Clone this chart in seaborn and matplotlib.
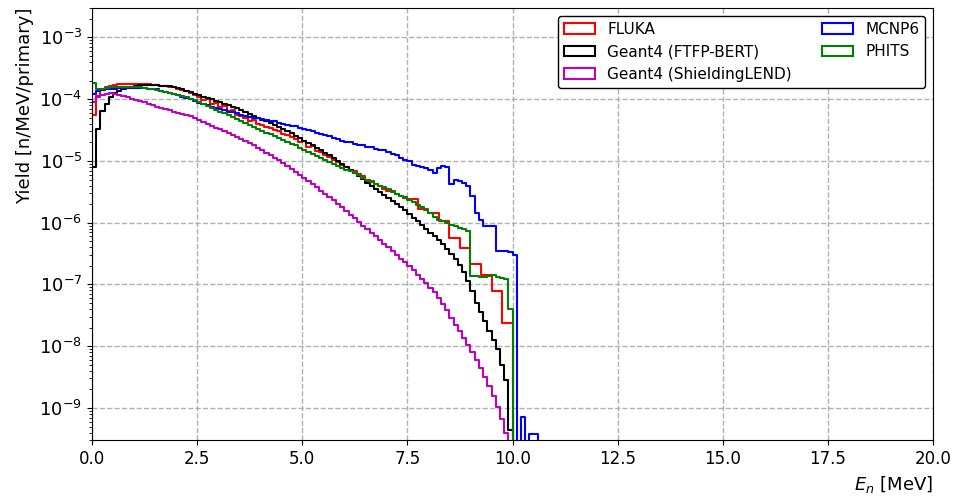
import numpy as np
import matplotlib
matplotlib.use("Agg")
import matplotlib.pyplot as plt
import seaborn as sns
from matplotlib.patches import Patch

# log10 of yield [n/MeV/primary] per bin; -12 marks an empty bin (below the axis)
fluka_log10 = [-4.25, -3.95, -3.85, -3.80, -3.78, -3.77, -3.76, -3.76, -3.76, -3.76,
               -3.76, -3.76, -3.76, -3.76, -3.77, -3.77, -3.78, -3.79, -3.80, -3.81,
               -3.83, -3.85, -3.87, -3.90, -3.93, -3.97, -4.02, -4.00, -4.08, -4.06,
               -4.13, -4.11, -4.19, -4.17, -4.25, -4.27, -4.30, -4.35, -4.34, -4.40,
               -4.42, -4.45, -4.47, -4.50, -4.52, -4.56, -4.58, -4.62, -4.64, -4.70,
               -4.68, -4.78, -4.76, -4.84, -4.86, -4.90, -4.94, -4.99, -5.02, -5.06,
               -5.10, -5.14, -5.17, -5.21, -5.25, -5.32, -5.33, -5.37, -5.40, -5.45,
               -5.48, -5.48, -5.54, -5.56, -5.60,
               -5.62, -5.78, -5.85, -5.97, -6.25, -6.41, -6.67, -6.84, -7.10, -7.62, -12]

ftfp_log10 = [-5.10, -4.48, -4.19, -4.08, -3.97, -3.90, -3.86, -3.83, -3.81, -3.80,
              -3.78, -3.77, -3.77, -3.77, -3.77, -3.77, -3.78, -3.78, -3.79, -3.80,
              -3.82, -3.84, -3.86, -3.88, -3.91, -3.94, -3.96, -3.98, -4.00, -4.03,
              -4.05, -4.08, -4.10, -4.13, -4.15, -4.18, -4.21, -4.24, -4.27, -4.30,
              -4.33, -4.36, -4.39, -4.42, -4.45, -4.48, -4.51, -4.55, -4.59, -4.63,
              -4.67, -4.71, -4.75, -4.79, -4.83, -4.87, -4.91, -4.95, -5.00, -5.05,
              -5.10, -5.15, -5.20, -5.25, -5.30, -5.35, -5.40, -5.45, -5.50, -5.55,
              -5.60, -5.65, -5.70, -5.75, -5.80, -5.86, -5.92, -5.98, -6.04, -6.10,
              -6.16, -6.22, -6.28, -6.35, -6.42, -6.50, -6.58, -6.68, -6.80, -6.95,
              -7.10, -7.30, -7.45, -7.60, -7.75, -7.90, -8.05, -8.30, -8.55, -9.35,
              -12]

shielding_log10 = [-4.05, -3.97, -3.93, -3.91, -3.90, -3.91, -3.93, -3.95, -3.97, -3.99,
                   -4.01, -4.03, -4.05, -4.08, -4.10, -4.12, -4.14, -4.16, -4.18, -4.20,
                   -4.22, -4.24, -4.26, -4.28, -4.30, -4.34, -4.37, -4.40, -4.43, -4.46,
                   -4.49, -4.52, -4.55, -4.58, -4.61, -4.64, -4.67, -4.71, -4.75, -4.79,
                   -4.83, -4.87, -4.91, -4.95, -4.99, -5.03, -5.08, -5.13, -5.18, -5.23,
                   -5.28, -5.33, -5.38, -5.43, -5.48, -5.53, -5.58, -5.63, -5.69, -5.75,
                   -5.81, -5.87, -5.93, -5.99, -6.05, -6.10, -6.16, -6.22, -6.28, -6.34,
                   -6.40, -6.46, -6.52, -6.58, -6.64, -6.70, -6.77, -6.84, -6.91, -6.98,
                   -7.05, -7.13, -7.22, -7.32, -7.42, -7.55, -7.65, -7.75, -7.87, -7.98,
                   -8.10, -8.22, -8.35, -8.50, -8.65, -8.80, -8.98, -9.18, -9.40, -12]

mcnp_log10 = [-3.92, -3.87, -3.85, -3.84, -3.83, -3.83, -3.82, -3.82, -3.82, -3.82,
              -3.82, -3.82, -3.82, -3.83, -3.83, -3.84, -3.86, -3.88, -3.90, -3.92,
              -3.94, -3.96, -3.98, -4.00, -4.03, -4.06, -4.08, -4.10, -4.12, -4.14,
              -4.16, -4.18, -4.20, -4.21, -4.23, -4.25, -4.27, -4.29, -4.30, -4.31,
              -4.32, -4.33, -4.35, -4.36, -4.38, -4.40, -4.41, -4.43, -4.44, -4.46,
              -4.48, -4.50, -4.52, -4.54, -4.56, -4.58, -4.60, -4.63, -4.65, -4.67,
              -4.69, -4.70, -4.72, -4.74, -4.75, -4.77, -4.78, -4.80, -4.82, -4.83,
              -4.85, -4.88, -4.91, -4.95, -4.99, -5.00, -5.06, -5.08, -5.10, -5.12,
              -5.15, -5.19, -5.12, -5.09, -5.10, -5.37, -5.31, -5.33, -5.35, -5.40,
              -5.56, -5.84, -5.95, -6.06, -6.06, -6.06, -6.46, -6.46, -6.46, -6.47,
              -6.52, -12, -9.15, -12, -9.43, -9.43, -12]

phits_log10 = [-3.73, -3.84, -3.83, -3.82, -3.81, -3.80, -3.80, -3.80, -3.80, -3.80,
               -3.81, -3.81, -3.82, -3.83, -3.84, -3.85, -3.86, -3.88, -3.90, -3.91,
               -3.93, -3.95, -3.97, -3.99, -4.02, -4.05, -4.08, -4.11, -4.14, -4.17,
               -4.20, -4.23, -4.26, -4.29, -4.32, -4.35, -4.38, -4.42, -4.45, -4.48,
               -4.51, -4.54, -4.57, -4.60, -4.63, -4.66, -4.69, -4.72, -4.75, -4.79,
               -4.83, -4.86, -4.89, -4.92, -4.95, -4.98, -5.01, -5.05, -5.08, -5.11,
               -5.14, -5.17, -5.20, -5.23, -5.27, -5.31, -5.34, -5.37, -5.40, -5.43,
               -5.46, -5.50, -5.53, -5.56, -5.59, -5.63, -5.67, -5.71, -5.75, -5.80,
               -5.85, -5.90, -5.95, -5.98, -6.00, -6.03, -6.05, -6.08, -6.10, -6.13,
               -6.87, -6.87, -6.88, -6.88, -6.86, -6.85, -6.88, -6.90, -6.92, -7.40,
               -12]

# bin edges [MeV]: 0.1 MeV bins, FLUKA switches to 0.25 MeV bins above 7.5 MeV
fine_edges = np.round(np.arange(0.0, 11.01, 0.1), 2)
fluka_edges = np.concatenate([np.round(np.arange(0.0, 7.5, 0.1), 2),
                              np.arange(7.5, 10.26, 0.25)])

series = [
    ("FLUKA", fluka_log10, fluka_edges, "red"),
    ("Geant4 (FTFP-BERT)", ftfp_log10, fine_edges, "black"),
    ("Geant4 (ShieldingLEND)", shielding_log10, fine_edges, "m"),
    ("MCNP6", mcnp_log10, fine_edges, "blue"),
    ("PHITS", phits_log10, fine_edges, "green"),
]

fig, ax = plt.subplots(figsize=(9.58, 4.98), dpi=100)
fig.subplots_adjust(left=0.096, right=0.974, top=0.984, bottom=0.116)

handles = []
for label, logs, edges, color in series:
    edges = edges[:len(logs) + 1]
    centers = 0.5 * (edges[:-1] + edges[1:])
    sns.histplot(x=centers, weights=10.0 ** np.array(logs), bins=edges.tolist(),
                 element="step", fill=False, color=color, linewidth=1.5, ax=ax)
    handles.append(Patch(facecolor="none", edgecolor=color, linewidth=1.5, label=label))

ax.set_yscale("log")
ax.set_xlim(0, 20)
ax.set_ylim(3e-10, 3e-3)
ax.set_xticks(np.arange(0, 20.1, 2.5))
ax.grid(True, which="major", linestyle="--", color="#b0b0b0", linewidth=1)
ax.set_axisbelow(True)
ax.tick_params(axis="x", labelsize=12)
ax.tick_params(axis="y", labelsize=13)
ax.set_xlabel(r"$E_n$ [MeV]", fontsize=13, loc="right")
ax.set_ylabel("Yield [n/MeV/primary]", fontsize=13, loc="top")
ax.legend(handles=handles, ncol=2, loc="upper right", fontsize=11,
          edgecolor="black", framealpha=1)

fig.savefig("out.png", dpi=100)
